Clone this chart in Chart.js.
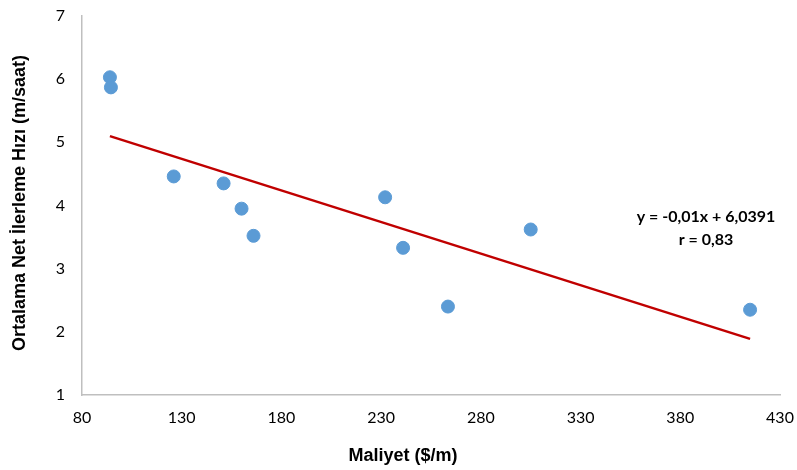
<!DOCTYPE html>
<html>
<head>
<meta charset="utf-8">
<script src="https://cdn.jsdelivr.net/npm/chart.js@4/dist/chart.umd.min.js"></script>
<style>
  html, body { margin: 0; padding: 0; background: #fff; }
  #wrap { width: 797px; height: 470px; }
</style>
</head>
<body>
<div id="wrap"><canvas id="chart" width="797" height="470"></canvas></div>
<script>
const cost = [94, 94.5, 126, 151, 160, 166, 232, 241, 263.5, 305, 415];
const speed = [6.03, 5.87, 4.46, 4.35, 3.95, 3.52, 4.13, 3.33, 2.40, 3.62, 2.35];
const xTicks = [80, 130, 180, 230, 280, 330, 380, 430];
const yTicks = [1, 2, 3, 4, 5, 6, 7];
const slope = -0.01;
const intercept = 6.0391;
const eqLines = ["y = -0,01x + 6,0391", "r = 0,83"];
const xTitle = "Maliyet ($/m)";
const yTitle = "Ortalama Net İlerleme Hızı (m/saat)";

const xMin = Math.min(...cost);
const xMax = Math.max(...cost);
const trend = [xMin, xMax].map((x) => ({ x: x, y: slope * x + intercept }));

const tickFont = { family: "Lato", size: 16 };

// titles and equation drawn by hand so they sit where the original has them
const labels = {
  id: "labels",
  afterDraw(chart) {
    const ctx = chart.ctx;
    ctx.save();
    ctx.fillStyle = "#000";
    ctx.font = "bold 18px 'Liberation Sans', Arial, sans-serif";
    ctx.textAlign = "center";
    ctx.textBaseline = "middle";
    ctx.fillText(xTitle, 403, 456);
    ctx.translate(20, 203);
    ctx.rotate(-Math.PI / 2);
    ctx.fillText(yTitle, 0, 0);
    ctx.restore();

    ctx.save();
    ctx.fillStyle = "#000";
    ctx.font = "bold 16px Lato, sans-serif";
    ctx.textAlign = "center";
    ctx.textBaseline = "middle";
    eqLines.forEach((t, i) => ctx.fillText(t, 706, 217 + i * 23));
    ctx.restore();
  },
};

new Chart(document.getElementById("chart"), {
  type: "scatter",
  data: {
    datasets: [
      {
        data: cost.map((c, i) => ({ x: c, y: speed[i] })),
        backgroundColor: "#5B9BD5",
        borderColor: "#5B9BD5",
        pointRadius: 6.5,
        pointHoverRadius: 6.5,
      },
      {
        type: "line",
        data: trend,
        borderColor: "#C00000",
        borderWidth: 2.5,
        pointRadius: 0,
        fill: false,
      },
    ],
  },
  options: {
    responsive: false,
    animation: false,
    layout: { padding: { top: 16, right: 17, left: 0, bottom: 0 } },
    scales: {
      x: {
        type: "linear",
        min: 80,
        max: 430,
        afterBuildTicks: (s) => {
          s.ticks = xTicks.map((v) => ({ value: v }));
        },
        afterFit: (s) => {
          s.height = 75;
          s.paddingLeft = 0;
          s.paddingRight = 0;
        },
        grid: { display: false, drawTicks: false },
        border: { display: true, color: "#BFBFBF", width: 1.5 },
        ticks: { color: "#000", font: tickFont, padding: 13, maxRotation: 0 },
      },
      y: {
        type: "linear",
        min: 1,
        max: 7,
        afterBuildTicks: (s) => {
          s.ticks = yTicks.map((v) => ({ value: v }));
        },
        afterFit: (s) => {
          s.width = 82;
          s.paddingTop = 0;
          s.paddingBottom = 0;
        },
        grid: { display: false, drawTicks: false },
        border: { display: true, color: "#BFBFBF", width: 1.5 },
        ticks: { color: "#000", font: tickFont, padding: 17 },
      },
    },
    plugins: {
      legend: { display: false },
      tooltip: { enabled: false },
    },
  },
  plugins: [labels],
});
</script>
</body>
</html>
